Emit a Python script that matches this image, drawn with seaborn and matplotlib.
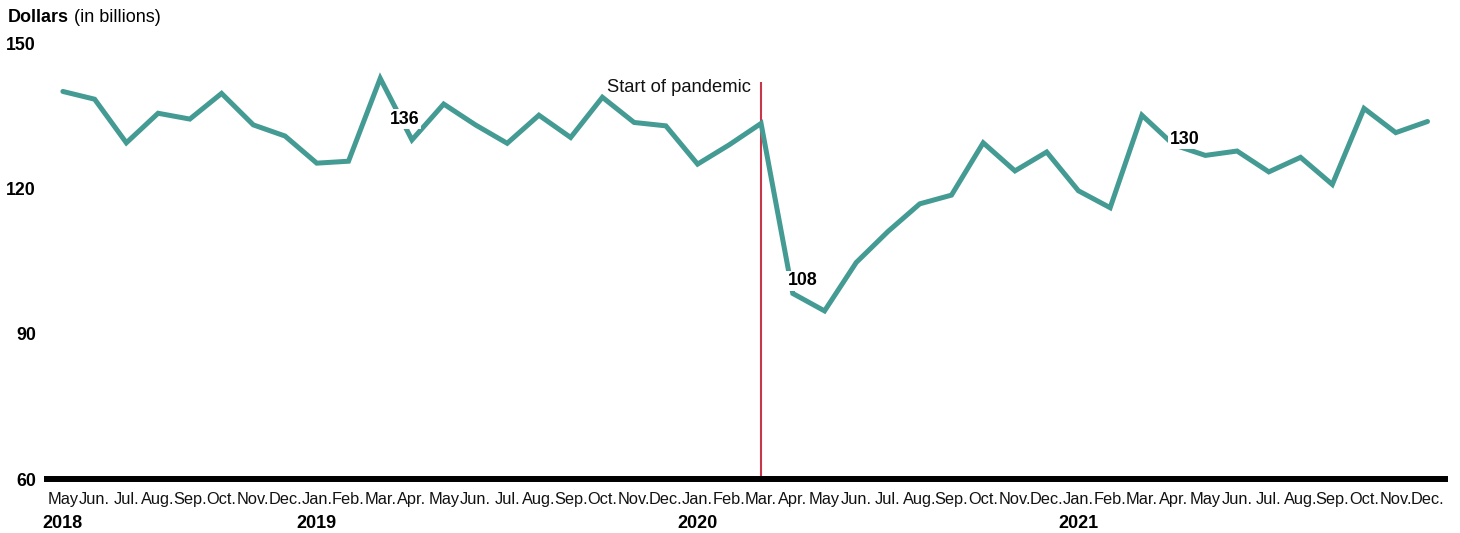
import matplotlib
matplotlib.use("Agg")
import matplotlib.pyplot as plt
import matplotlib.transforms as mtransforms
import seaborn as sns
import pandas as pd

# Monthly values, May 2018 - Dec 2021 (dollars, in billions)
months = ["May", "Jun.", "Jul.", "Aug.", "Sep.", "Oct.", "Nov.", "Dec.",
          "Jan.", "Feb.", "Mar.", "Apr.", "May", "Jun.", "Jul.", "Aug.", "Sep.", "Oct.", "Nov.", "Dec.",
          "Jan.", "Feb.", "Mar.", "Apr.", "May", "Jun.", "Jul.", "Aug.", "Sep.", "Oct.", "Nov.", "Dec.",
          "Jan.", "Feb.", "Mar.", "Apr.", "May", "Jun.", "Jul.", "Aug.", "Sep.", "Oct.", "Nov.", "Dec."]
values = [140.0, 138.4, 129.4, 135.5, 134.3, 139.6, 133.1, 130.8,
          125.2, 125.6, 142.7, 130.0, 137.4, 133.1, 129.3, 135.1, 130.5, 138.8, 133.6, 132.9,
          125.0, 129.0, 133.4, 98.3, 94.7, 104.7, 111.1, 116.8, 118.6, 129.4, 123.6, 127.5,
          119.5, 116.0, 135.1, 129.0, 126.8, 127.7, 123.4, 126.4, 120.8, 136.5, 131.5, 133.8]
years = ["2018", "2019", "2020", "2021"]
year_start_idx = [0, 8, 20, 32]

# April callouts
callout_text = ["136", "108", "130"]
callout_idx = [11, 23, 35]
callout_offset_pt = [(-5, 15), (7, 9), (8, 4)]

pandemic_idx = 22
pandemic_label = "Start of pandemic"
y_ticks = [60, 90, 120, 150]

df = pd.DataFrame({"idx": range(len(values)), "value": values})

sns.set_theme(style="white")
plt.rcParams["font.family"] = ["Liberation Sans", "DejaVu Sans"]
plt.rcParams["text.color"] = "black"

fig = plt.figure(figsize=(14.6, 5.33), dpi=100)
ax = fig.add_axes([0.0322, 0.1013, 0.9575, 0.818])

line_color = "#449b93"
sns.lineplot(data=df, x="idx", y="value", ax=ax, color=line_color,
             linewidth=3.6, solid_joinstyle="miter", zorder=3)

# Pandemic marker
ax.vlines(pandemic_idx, 60, 142, color="#c8364a", linewidth=1.5, zorder=2)
ax.annotate(pandemic_label, xy=(pandemic_idx, 140.9), xytext=(-7, 0),
            textcoords="offset points", ha="right", va="center",
            fontsize=13.2, color="#111111")

# Callout labels with white boxes
for txt, i, off in zip(callout_text, callout_idx, callout_offset_pt):
    ax.annotate(txt, xy=(i, values[i]), xytext=off, textcoords="offset points",
                ha="center", va="center", fontsize=12.8, fontweight="bold",
                color="black", zorder=5,
                bbox=dict(boxstyle="square,pad=0.08", fc="white", ec="none"))

ax.set_xlim(-0.5, 43.55)
ax.set_ylim(60, 150)
ax.set_yticks(y_ticks)
ax.set_yticklabels([str(t) for t in y_ticks], fontsize=12.8, fontweight="bold",
                   color="black")
ax.set_xticks(range(len(months)))
ax.set_xticklabels(months, fontsize=11.8, color="#111111")
ax.tick_params(axis="both", length=0)
ax.tick_params(axis="y", pad=8)
ax.tick_params(axis="x", pad=9)
ax.set_xlabel("")
ax.set_ylabel("")

for side in ["top", "right", "left"]:
    ax.spines[side].set_visible(False)
ax.spines["bottom"].set_color("black")
ax.spines["bottom"].set_linewidth(4.3)
ax.spines["bottom"].set_zorder(4)

# Year labels beneath the month labels
trans = mtransforms.blended_transform_factory(ax.transData, ax.transAxes)
for y, i in zip(years, year_start_idx):
    ax.text(i, -0.103, y, transform=trans, ha="center", va="center",
            fontsize=13, fontweight="bold", color="black")

# Axis title: bold unit word followed by a regular qualifier
title_bold = fig.text(8 / 1460, 1 - 17 / 533, "Dollars", ha="left", va="center",
                      fontsize=13, fontweight="bold", color="black")
fig.canvas.draw()
bb = title_bold.get_window_extent()
fig.text((bb.x1 + 5) / 1460, 1 - 17 / 533, "(in billions)", ha="left", va="center",
         fontsize=13, color="black")

fig.savefig("out.png", dpi=100)
